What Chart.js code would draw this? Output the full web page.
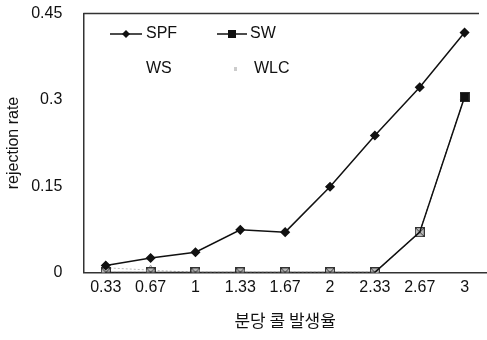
<!DOCTYPE html>
<html>
<head>
<meta charset="utf-8">
<script src="https://cdn.jsdelivr.net/npm/chart.js@4"></script>
<style>
  html, body { margin: 0; padding: 0; background: #fff; overflow: hidden; }
  canvas { display: block; }
</style>
</head>
<body>
<canvas id="chart" width="487" height="340"></canvas>
<script>
const rates = ["0.33", "0.67", "1", "1.33", "1.67", "2", "2.33", "2.67", "3"];
const spf = [0.012, 0.025, 0.035, 0.074, 0.07, 0.149, 0.238, 0.322, 0.417];
const sw  = [0, 0, 0, 0, 0, 0, 0, 0.07, 0.305];
const ws  = [0.008, 0.004, 0, 0, 0, 0, 0, 0.07, 0.305];
const wlc = [0, 0, 0, 0, 0, 0, 0, 0.07, 0.305];
const yTicks = [0, 0.15, 0.3, 0.45];

const font = "'Liberation Sans', Arial, sans-serif";

// small grey box with a cross, used for WLC points
const boxX = document.createElement('canvas');
boxX.width = 10; boxX.height = 10;
(function () {
  const g = boxX.getContext('2d');
  g.fillStyle = '#bbb'; g.fillRect(0.5, 0.5, 9, 9);
  g.strokeStyle = '#333'; g.lineWidth = 1;
  g.strokeRect(0.5, 0.5, 9, 9);
  g.beginPath(); g.moveTo(1, 1); g.lineTo(9, 9); g.moveTo(9, 1); g.lineTo(1, 9); g.stroke();
})();

// legend drawn inside the plot, like the original
const insideLegend = {
  id: 'insideLegend',
  afterDraw(chart) {
    const c = chart.ctx;
    c.save();
    c.font = "16px " + font;
    c.fillStyle = '#111';
    c.strokeStyle = '#111';
    c.lineWidth = 1.5;
    c.textBaseline = 'middle';
    // SPF
    c.beginPath(); c.moveTo(110, 34); c.lineTo(142, 34); c.stroke();
    c.beginPath(); c.moveTo(126, 30); c.lineTo(130, 34); c.lineTo(126, 38); c.lineTo(122, 34); c.closePath(); c.fill();
    c.fillText('SPF', 146, 34);
    // SW
    c.beginPath(); c.moveTo(217, 34); c.lineTo(247, 34); c.stroke();
    c.fillRect(228, 30, 8, 8);
    c.fillText('SW', 250, 34);
    // WS / WLC
    c.fillText('WS', 146, 69);
    c.fillStyle = '#ccc';
    c.fillRect(234, 67, 3, 4);
    c.fillStyle = '#111';
    c.fillText('WLC', 254, 69);
    c.restore();
  }
};

const topBorder = {
  id: 'topBorder',
  afterDraw(chart) {
    const a = chart.chartArea, c = chart.ctx;
    c.save();
    c.strokeStyle = '#333';
    c.lineWidth = 1.5;
    c.beginPath(); c.moveTo(a.left, a.top); c.lineTo(a.right - 8, a.top); c.stroke();
    c.restore();
  }
};

new Chart(document.getElementById('chart'), {
  type: 'line',
  data: {
    labels: rates,
    datasets: [
      { label: 'SPF', data: spf, borderColor: '#111', borderWidth: 1.5,
        pointStyle: 'rectRot', pointRadius: 4, pointBackgroundColor: '#111', pointBorderColor: '#111' },
      { label: 'SW', data: sw, borderColor: '#111', borderWidth: 1.5,
        pointStyle: 'rect', pointRadius: [0, 0, 0, 0, 0, 0, 0, 0, 5],
        pointBackgroundColor: '#111', pointBorderColor: '#111' },
      { label: 'WLC', data: wlc, borderColor: '#666', borderWidth: 1, borderDash: [2, 2],
        pointStyle: boxX, pointRadius: 5 },
      { label: 'WS', data: ws, borderColor: '#bbb', borderWidth: 1, borderDash: [2, 2],
        pointStyle: 'triangle', pointRadius: 5, pointBackgroundColor: '#f4f4f4', pointBorderColor: '#999' }
    ]
  },
  options: {
    responsive: false,
    animation: false,
    layout: { autoPadding: false, padding: { top: 0, right: 0, left: 2, bottom: 5 } },
    plugins: { legend: { display: false }, tooltip: { enabled: false } },
    scales: {
      x: {
        offset: true,
        grid: { display: false, drawTicks: true, tickLength: 4 },
        border: { display: true, color: '#333', width: 1.5 },
        ticks: { color: '#111', padding: 2, font: { family: font, size: 16 } },
        title: { display: true, text: '분당 콜 발생율', color: '#111', padding: { top: 11, bottom: 4 },
                 font: { family: "'Noto Sans CJK KR', sans-serif", size: 17 } }
      },
      y: {
        min: 0, max: 0.45,
        grid: { display: false, drawTicks: true, tickLength: 17 },
        border: { display: true, color: '#333', width: 1.5 },
        afterBuildTicks(axis) { axis.ticks = yTicks.map(v => ({ value: v })); },
        ticks: { color: '#111', padding: 4, autoSkip: false, font: { family: font, size: 16 },
                 callback: v => String(Math.round(v * 100) / 100) },
        title: { display: true, text: 'rejection rate', color: '#111', padding: { top: 2, bottom: 4 },
                 font: { family: font, size: 16 } }
      }
    }
  },
  plugins: [insideLegend, topBorder]
});
</script>
</body>
</html>
